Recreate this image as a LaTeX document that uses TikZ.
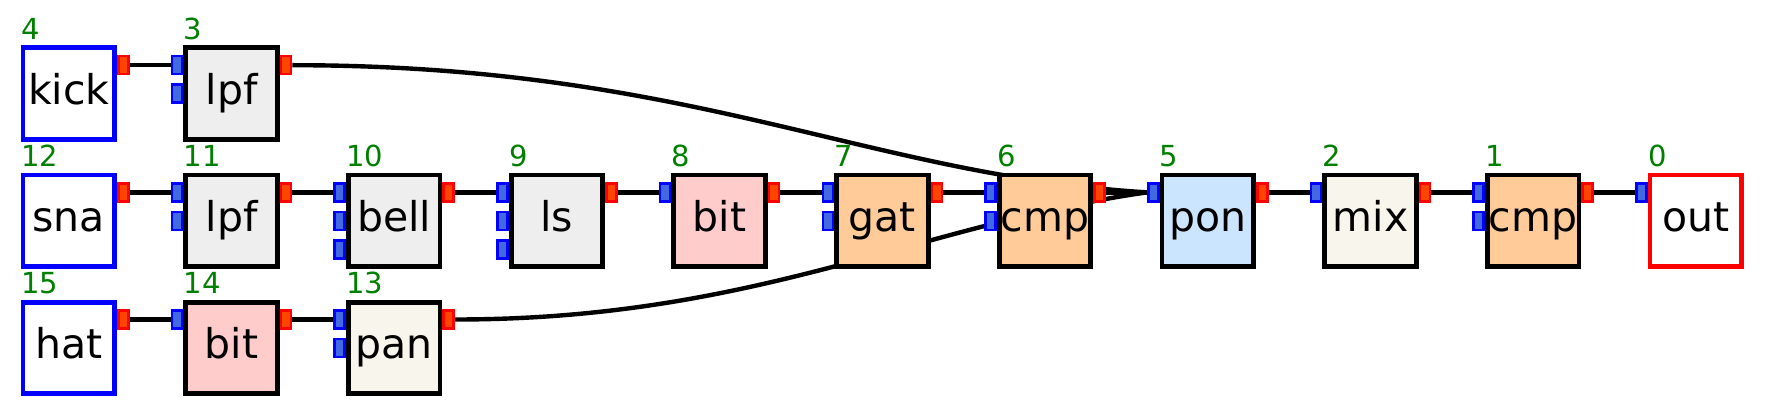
\documentclass[tikz,border=0pt]{standalone}
\usepackage{fontspec}
\setmainfont{DejaVu Sans}
\usetikzlibrary{backgrounds}
\definecolor{grayfill}{HTML}{EEEEEE}
\definecolor{pinkfill}{HTML}{FFCCCC}
\definecolor{peachfill}{HTML}{FFCC99}
\definecolor{skyfill}{HTML}{CCE5FF}
\definecolor{ivoryfill}{HTML}{F8F5EC}
\definecolor{numgreen}{HTML}{008000}
\definecolor{inblue}{HTML}{4169E1}
\definecolor{outred}{HTML}{FF4500}
\tikzset{
  box/.style={draw, line width=2.4pt, minimum size=45.8pt, inner sep=0pt,
    text height=15.5pt, text depth=5pt, font=\fontsize{20.5}{24}\selectfont},
  src/.style={box, draw=blue, fill=white},
  snk/.style={box, draw=red, fill=white},
  num/.style={anchor=base west, inner sep=0pt, text=numgreen, font=\fontsize{14.5}{16}\selectfont},
  port/.style={line width=1.3pt, minimum width=5pt, minimum height=9pt, inner sep=0pt},
  inport/.style={port, draw=blue, fill=inblue, anchor=east},
  outport/.style={port, draw=red, fill=outred, anchor=west},
  wire/.style={line width=2.2pt}
}
% block, its number, its ports
\newcommand{\blk}[5]{\node[#3] (#1) at (#2) {#4};
  \node[num] (#1-n) at ([yshift=3pt]#1.north west) {#5};}
\newcommand{\inp}[2]{\foreach \k in {1,...,#2}
  {\node[inport] (#1-i\k) at ([yshift={14.25pt*(2-\k)}]#1.west) {};}}
\newcommand{\outp}[1]{\node[outport] (#1-o) at ([yshift=14.25pt]#1.east) {};}

\begin{document}
\begin{tikzpicture}[x=81.35pt, y=63.575pt]
  \useasboundingbox (-34.43pt,46.85pt) rectangle (848.07pt,-161.65pt);
  % top row
  \blk{kick}{0,0}{src}{kick}{4} \outp{kick}
  \blk{lpf3}{1,0}{box, fill=grayfill}{lpf}{3} \inp{lpf3}{2} \outp{lpf3}
  % middle row
  \blk{sna}{0,-1}{src}{sna}{12} \outp{sna}
  \blk{lpf11}{1,-1}{box, fill=grayfill}{lpf}{11} \inp{lpf11}{2} \outp{lpf11}
  \blk{bell}{2,-1}{box, fill=grayfill}{bell}{10} \inp{bell}{3} \outp{bell}
  \blk{ls}{3,-1}{box, fill=grayfill}{ls}{9} \inp{ls}{3} \outp{ls}
  \blk{bit8}{4,-1}{box, fill=pinkfill}{bit}{8} \inp{bit8}{1} \outp{bit8}
  \blk{gat}{5,-1}{box, fill=peachfill}{gat}{7} \inp{gat}{2} \outp{gat}
  \blk{cmp6}{6,-1}{box, fill=peachfill}{cmp}{6} \inp{cmp6}{2} \outp{cmp6}
  \blk{pon}{7,-1}{box, fill=skyfill}{pon}{5} \inp{pon}{1} \outp{pon}
  \blk{mix}{8,-1}{box, fill=ivoryfill}{mix}{2} \inp{mix}{1} \outp{mix}
  \blk{cmp1}{9,-1}{box, fill=peachfill}{cmp}{1} \inp{cmp1}{2} \outp{cmp1}
  \blk{out}{10,-1}{snk}{out}{0} \inp{out}{1}
  % bottom row
  \blk{hat}{0,-2}{src}{hat}{15} \outp{hat}
  \blk{bit14}{1,-2}{box, fill=pinkfill}{bit}{14} \inp{bit14}{1} \outp{bit14}
  \blk{pan}{2,-2}{box, fill=ivoryfill}{pan}{13} \inp{pan}{2} \outp{pan}

  \begin{scope}[on background layer]
    \draw[wire] (kick-o.east) -- (lpf3-i1.west);
    \draw[wire] (sna-o.east) -- (lpf11-i1.west);
    \draw[wire] (lpf11-o.east) -- (bell-i1.west);
    \draw[wire] (bell-o.east) -- (ls-i1.west);
    \draw[wire] (ls-o.east) -- (bit8-i1.west);
    \draw[wire] (bit8-o.east) -- (gat-i1.west);
    \draw[wire] (gat-o.east) -- (cmp6-i1.west);
    \draw[wire] (cmp6-o.east) -- (pon-i1.west);
    \draw[wire] (pon-o.east) -- (mix-i1.west);
    \draw[wire] (mix-o.east) -- (cmp1-i1.west);
    \draw[wire] (cmp1-o.east) -- (out-i1.west);
    \draw[wire] (hat-o.east) -- (bit14-i1.west);
    \draw[wire] (bit14-o.east) -- (pan-i1.west);
    \draw[wire] (lpf3-o.east) .. controls +(200pt,0pt) and +(-140pt,8.5pt) .. (pon-i1.west);
    \draw[wire] (pan-o.east) .. controls +(150pt,0pt) and +(-115pt,-16.5pt) .. (pon-i1.west);
  \end{scope}
\end{tikzpicture}
\end{document}
